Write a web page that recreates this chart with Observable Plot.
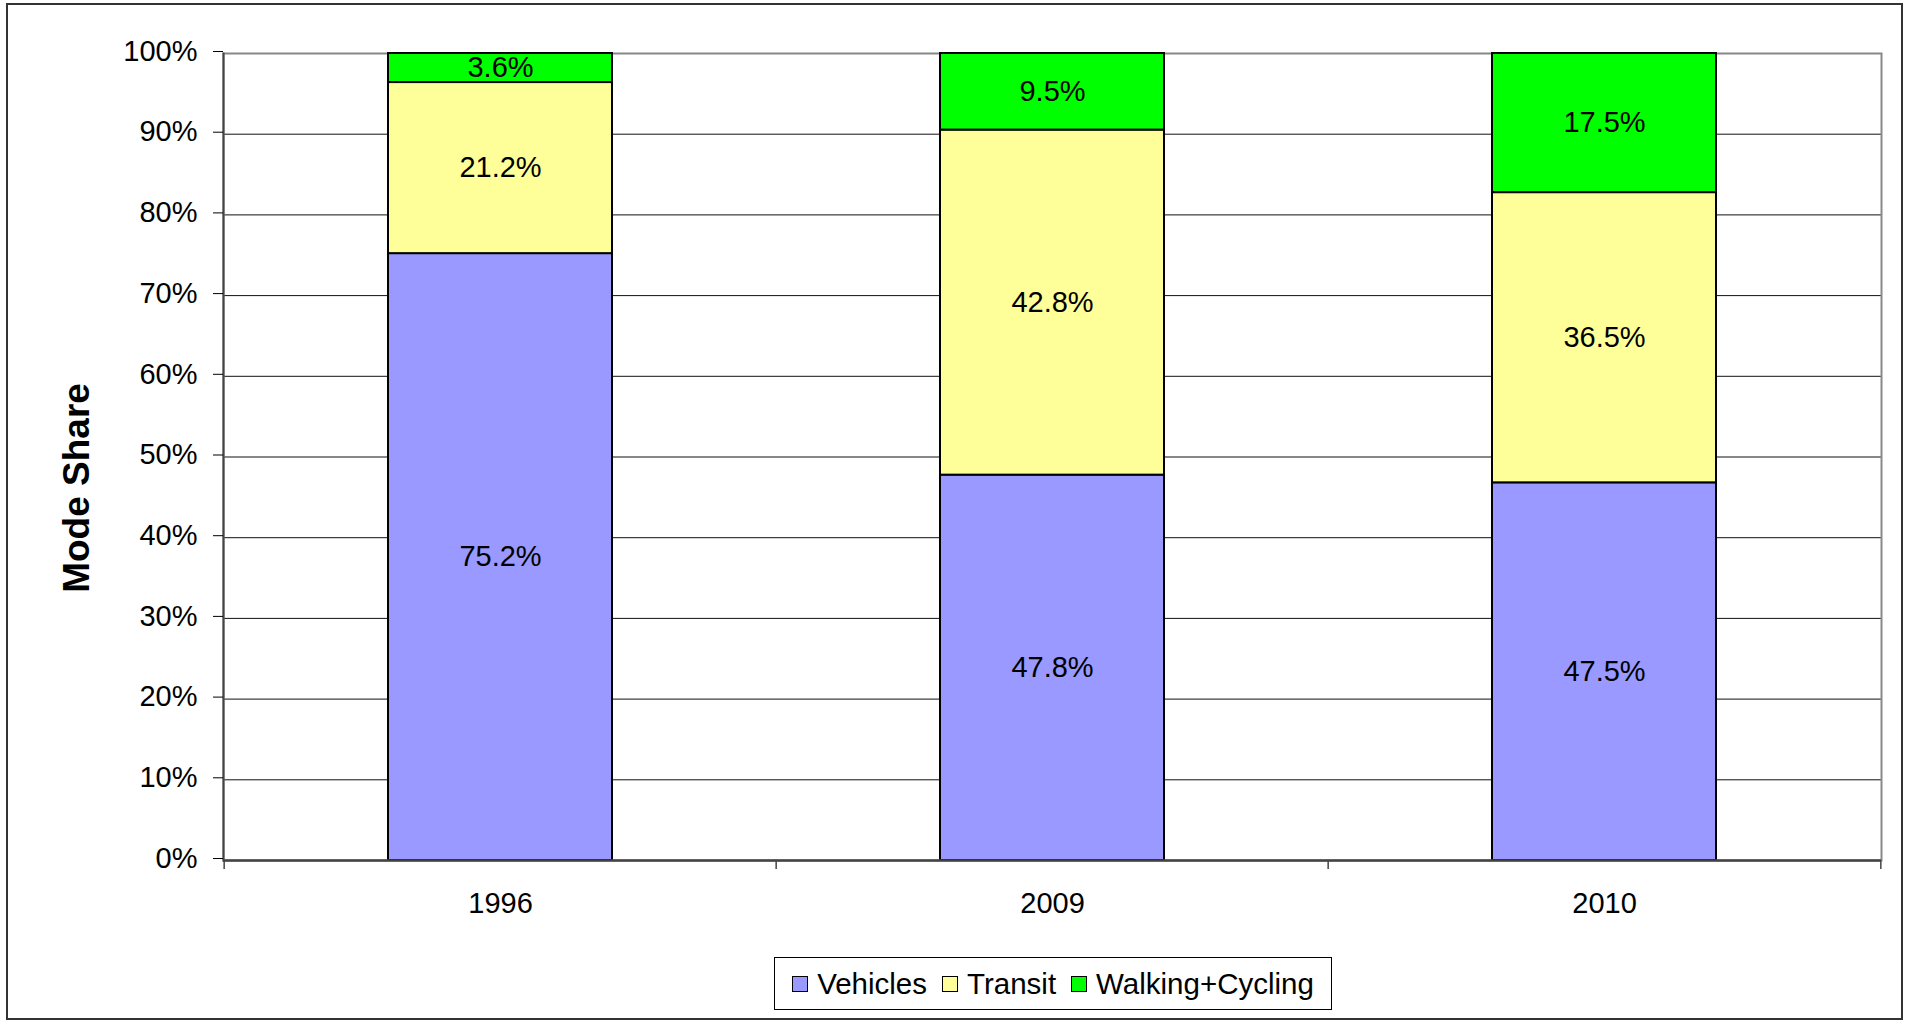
<!DOCTYPE html>
<html>
<head>
<meta charset="utf-8">
<script src="https://cdn.jsdelivr.net/npm/d3@7"></script>
<script src="https://cdn.jsdelivr.net/npm/@observablehq/plot@0.6"></script>
<style>
  html, body { margin: 0; padding: 0; background: #fff; }
  #wrap { position: relative; width: 1911px; height: 1021px; background: #fff; font-family: "Liberation Sans", Arial, sans-serif; }
  #border { position: absolute; left: 6px; top: 3px; width: 1897px; height: 1017px; box-sizing: border-box; border: 2px solid #333; pointer-events: none; }
  #chart { position: absolute; left: 0; top: 0; }
  #legend { position: absolute; left: 774px; top: 957px; width: 558px; height: 53px; box-sizing: border-box; border: 1px solid #000;
            display: flex; align-items: center; justify-content: center; gap: 15px; font-size: 29.5px; color: #000; background: #fff; }
  .item { display: flex; align-items: center; }
  .sw { width: 14px; height: 14px; border: 1.5px solid #000; margin-right: 9px; }
</style>
</head>
<body>
<div id="wrap">
  <div id="chart"></div>
  <div id="legend"></div>
  <div id="border"></div>
</div>
<script>
const years = ["1996", "2009", "2010"];
const modes = ["Vehicles", "Transit", "Walking+Cycling"];
const vehicles = [75.2, 47.8, 47.5];
const transit = [21.2, 42.8, 36.5];
const walking = [3.6, 9.5, 17.5];
const colors = ["#9999FF", "#FFFF99", "#00FF00"];
const yTicks = [0, 0.1, 0.2, 0.3, 0.4, 0.5, 0.6, 0.7, 0.8, 0.9, 1.0];
const yTitle = "Mode Share";

const series = [vehicles, transit, walking];
const data = [];
years.forEach((year, i) => {
  modes.forEach((mode, j) => data.push({year, mode, value: series[j][i]}));
});

const W = 1911, H = 950;
const mL = 223, mR = 30, mT = 53, mB = 90;
const step = (W - mL - mR) / years.length;

const chart = Plot.plot({
  width: W,
  height: H,
  marginLeft: mL,
  marginRight: mR,
  marginTop: mT,
  marginBottom: mB,
  style: {fontFamily: "'Liberation Sans', Arial, sans-serif", fontSize: "29px", background: "transparent", color: "#000"},
  x: {domain: years, paddingInner: 0.595, paddingOuter: 0.2975},
  y: {domain: [0, 1]},
  color: {domain: modes, range: colors},
  marks: [
    Plot.ruleY(yTicks.filter(d => d > 0 && d < 1), {y: d => d, stroke: "#111", strokeWidth: 1}),
    Plot.frame({stroke: "#888", strokeWidth: 2}),
    Plot.barY(data, {x: "year", y: "value", fill: "mode", order: modes, offset: "normalize", stroke: "#000", strokeWidth: 2}),
    Plot.frame({anchor: "left", stroke: "#444", strokeWidth: 2}),
    Plot.ruleY([0], {stroke: "#444", strokeWidth: 2.5}),
    Plot.ruleX(years, {x: d => d, dx: -step / 2, y1: 0, y2: 0, insetBottom: -9, stroke: "#444", strokeWidth: 1.5}),
    Plot.ruleX(years.slice(-1), {x: d => d, dx: step / 2, y1: 0, y2: 0, insetBottom: -9, stroke: "#444", strokeWidth: 1.5}),
    Plot.axisY({ticks: yTicks, tickFormat: d3.format(".0%"), tickSize: 10, tickPadding: 16, fontSize: 29, label: null, dy: -2}),
    Plot.axisX({tickSize: 0, tickPadding: 32, fontSize: 29, label: null}),
    Plot.text(data, Plot.stackY({x: "year", y: "value", z: "mode", order: modes, offset: "normalize",
      text: d => d.value.toFixed(1) + "%", fontSize: 29, fill: "#000"})),
    Plot.text([yTitle], {text: d => d, frameAnchor: "left", textAnchor: "middle", rotate: -90, dx: -146, dy: 31, fontSize: 37, fontWeight: "bold", fill: "#000"})
  ]
});
document.getElementById("chart").appendChild(chart);

const legend = document.getElementById("legend");
modes.forEach((m, i) => {
  const it = document.createElement("div");
  it.className = "item";
  const sw = document.createElement("div");
  sw.className = "sw";
  sw.style.background = colors[i];
  const t = document.createElement("span");
  t.textContent = m;
  it.appendChild(sw);
  it.appendChild(t);
  legend.appendChild(it);
});
</script>
</body>
</html>
